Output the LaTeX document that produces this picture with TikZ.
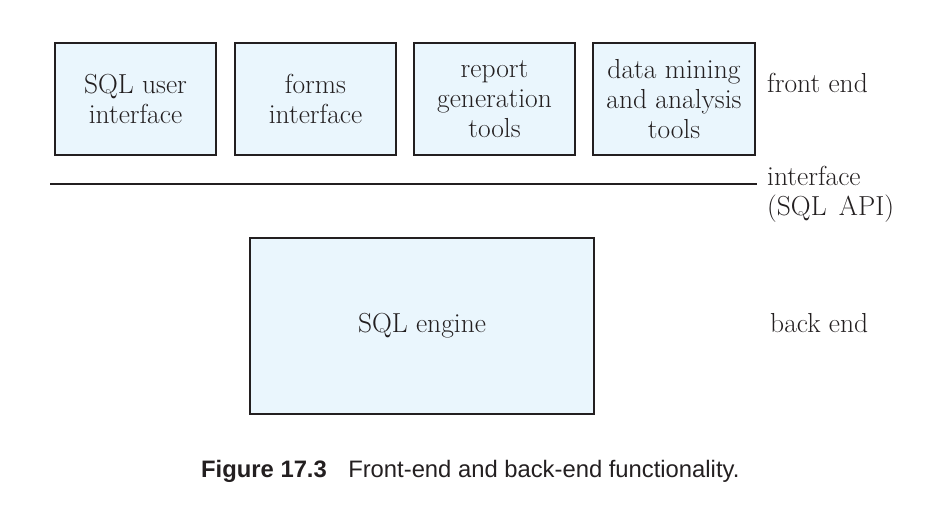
\documentclass[tikz,border=0pt]{standalone}
\usepackage{fontspec}
\newfontfamily\capfont{Liberation Sans}
\definecolor{boxfill}{HTML}{EAF6FD}
\definecolor{ink}{HTML}{231F20}
\begin{document}
\begin{tikzpicture}[x=1pt,y=-1pt,
  box/.style={draw=ink,line width=1.3pt,fill=boxfill,inner sep=0pt,
    font=\fontsize{27.5}{30}\selectfont,align=center,text=ink},
  lbl/.style={font=\fontsize{27.5}{30}\selectfont,align=left,anchor=west,inner sep=0pt,text=ink}]
\useasboundingbox (0,0) rectangle (926,523);
\node[box,minimum width=161,minimum height=112] (sqlui) at (135.5,99) {SQL user\\interface};
\node[box,minimum width=161,minimum height=112] (forms) at (315.5,99) {forms\\interface};
\node[box,minimum width=161,minimum height=112] (report) at (494.5,99) {report\\generation\\tools};
\node[box,minimum width=162,minimum height=112] (mining) at (674,99) {data mining\\and analysis\\tools};
\coordinate (la) at (50,184);
\coordinate (lb) at (757,184);
\draw[ink,line width=1.2pt] (la) -- (lb);
\node[box,minimum width=344,minimum height=176] (engine) at (422,326) {SQL engine};
\node[lbl] (fe) at (767,83) {front end};
\node[lbl] (ifc) at (767,194) {interface\\(SQL\hspace{0.45em}API)};
\node[lbl] (be) at (770,323) {back end};
\node[anchor=west,inner sep=0pt,text=ink,font=\capfont\fontsize{23.8}{28}\selectfont] (cap) at (201,471) {\textbf{Figure 17.3}\hspace{0.9em}Front-end and back-end functionality.};
\end{tikzpicture}
\end{document}
